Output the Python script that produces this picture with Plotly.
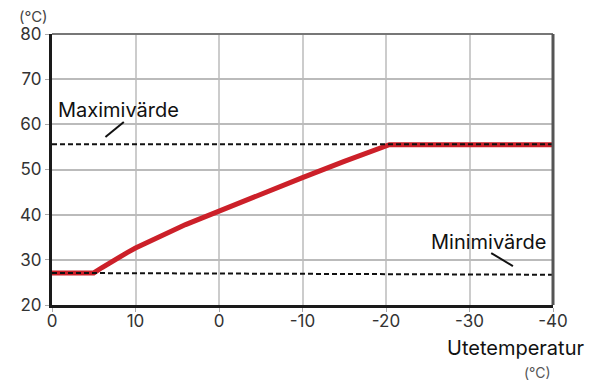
import plotly.graph_objects as go

# outdoor temperature (x) vs supply temperature (y)
curve_x = [20, 15, 14, 13, 12, 11, 10, 8, 6, 4, 2, 0, -5, -10, -15, -20.4, -40]
curve_y = [27.1, 27.1, 28.3, 29.5, 30.6, 31.6, 32.6, 34.4, 36.1, 37.8, 39.3,
           40.8, 44.6, 48.2, 51.8, 55.5, 55.5]

max_x = [20, -40]
max_y = [55.6, 55.6]
min_x = [20, -40]
min_y = [27.1, 26.7]

x_ticks = [20, 10, 0, -10, -20, -30, -40]
x_ticktext = ["0", "10", "0", "-10", "-20", "-30", "-40"]
y_ticks = [20, 30, 40, 50, 60, 70, 80]

FONT = "Inter"

fig = go.Figure()

fig.add_trace(go.Scatter(x=curve_x, y=curve_y, mode="lines",
    line=dict(color="#cc2029", width=5),
    showlegend=False, hoverinfo="skip"))
fig.add_trace(go.Scatter(x=max_x, y=max_y, mode="lines",
    line=dict(color="#111111", width=2, dash="5px,3px"),
    showlegend=False, hoverinfo="skip"))
fig.add_trace(go.Scatter(x=min_x, y=min_y, mode="lines",
    line=dict(color="#111111", width=2, dash="5px,3px"),
    showlegend=False, hoverinfo="skip"))

# leader lines for the labels
fig.add_shape(type="line", x0=11.4, y0=60.5, x1=13.6, y1=57.2,
              line=dict(color="#111111", width=2))
fig.add_shape(type="line", x0=-32.6, y0=31.5, x1=-35.2, y1=28.6,
              line=dict(color="#111111", width=2))

# top and right frame
fig.add_shape(type="line", xref="x domain", yref="y domain",
              x0=0, y0=1, x1=1, y1=1, line=dict(color="#777777", width=2))
fig.add_shape(type="line", xref="x domain", yref="y domain",
              x0=1, y0=0, x1=1, y1=1, line=dict(color="#555555", width=3))

fig.add_annotation(x=19.5, y=63.2, text="Maximivärde", showarrow=False,
                   xanchor="left", yanchor="middle",
                   font=dict(family=FONT, size=20, color="#111111"))
fig.add_annotation(x=-39.4, y=33.9, text="Minimivärde", showarrow=False,
                   xanchor="right", yanchor="middle",
                   font=dict(family=FONT, size=20, color="#111111"))

fig.add_annotation(xref="paper", yref="paper", x=-0.068, y=1.066,
                   text="(°C)", showarrow=False, xanchor="left", yanchor="middle",
                   borderpad=0,
                   font=dict(family=FONT, size=15, color="#444444"))
fig.add_annotation(xref="paper", yref="paper", x=1.066, y=-0.159,
                   text="Utetemperatur", showarrow=False, xanchor="right", yanchor="middle",
                   font=dict(family=FONT, size=20, color="#111111"))
fig.add_annotation(xref="paper", yref="paper", x=1.0, y=-0.25,
                   text="(°C)", showarrow=False, xanchor="right", yanchor="middle",
                   font=dict(family=FONT, size=14, color="#555555"))

fig.update_xaxes(range=[20, -40], tickvals=x_ticks, ticktext=x_ticktext,
                 showgrid=True, gridcolor="#cccccc", gridwidth=1.5,
                 showline=True, linecolor="#1a1a1a", linewidth=3,
                 ticks="outside", ticklen=4, tickcolor="#aaaaaa",
                 ticklabelstandoff=-5,
                 zeroline=False,
                 tickfont=dict(family=FONT, size=17, color="#333333"))
fig.update_yaxes(range=[20, 80], tickvals=y_ticks,
                 showgrid=True, gridcolor="#bbbbbb", gridwidth=1.5,
                 showline=True, linecolor="#1a1a1a", linewidth=3,
                 ticks="outside", ticklen=4, tickcolor="#aaaaaa",
                 zeroline=False,
                 tickfont=dict(family=FONT, size=17, color="#333333"))

# the page puts the figure 8px in from the top-left corner
fig.update_layout(
    width=596, height=385,
    margin=dict(l=41, r=51, t=26, b=88),
    plot_bgcolor="white", paper_bgcolor="white",
    showlegend=False,
)

fig.write_html("out.html")
